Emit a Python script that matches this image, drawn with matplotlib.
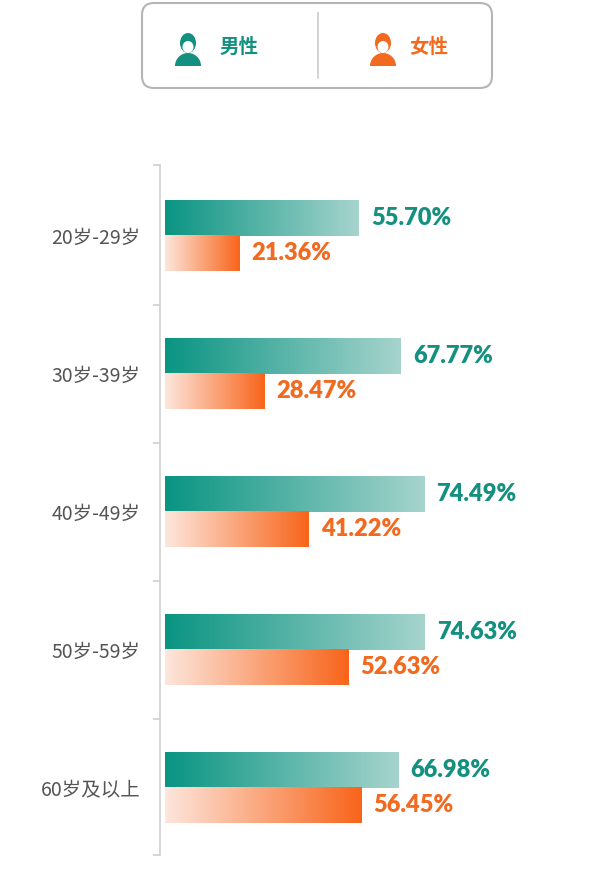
import matplotlib
matplotlib.use("Agg")
import matplotlib.pyplot as plt
import numpy as np
from matplotlib.patches import FancyBboxPatch, Circle, Wedge, Ellipse
from matplotlib.colors import LinearSegmentedColormap

categories = ["20岁-29岁", "30岁-39岁", "40岁-49岁", "50岁-59岁", "60岁及以上"]
male = [55.70, 67.77, 74.49, 74.63, 66.98]
female = [21.36, 28.47, 41.22, 52.63, 56.45]
series_names = ["男性", "女性"]

TEAL = "#13907f"
ORANGE = "#f26a1f"
W, H = 600, 882
fig = plt.figure(figsize=(6, 8.82), dpi=100)

def frect(x0, y0, x1, y1):
    return [x0 / W, 1 - y1 / H, (x1 - x0) / W, (y1 - y0) / H]

ax = fig.add_axes(frect(160, 165, 600, 855))
cm_m = LinearSegmentedColormap.from_list("m", ["#0a9482", "#a6d4cd"])
cm_f = LinearSegmentedColormap.from_list("f", ["#fde6dc", "#f8641a"])
grad = np.linspace(0, 1, 256).reshape(1, -1)
bh = 0.254
for i, (m, f) in enumerate(zip(male, female)):
    ax.imshow(grad, cmap=cm_m, aspect="auto", extent=(0, m, i, i - bh), zorder=2)
    ax.imshow(grad, cmap=cm_f, aspect="auto", extent=(0, f, i + bh, i), zorder=2)
    ax.text(m + 3.5, i - bh / 2, f"{m:.2f}%", color=TEAL, fontsize=17, fontweight="heavy",
            family="Lato", va="center", ha="left")
    ax.text(f + 3.5, i + bh / 2, f"{f:.2f}%", color=ORANGE, fontsize=17, fontweight="heavy",
            family="Lato", va="center", ha="left")
ax.set_xlim(-1.44, 125)
ax.set_ylim(4.486, -0.514)
for s in ["top", "right", "bottom"]:
    ax.spines[s].set_visible(False)
ax.spines["left"].set_color("#cfcfcf")
ax.spines["left"].set_linewidth(1.2)
ax.set_xticks([])
ax.set_yticks(range(len(categories)))
ax.set_yticklabels(categories, family=["Noto Sans CJK SC", "DejaVu Sans"], fontsize=14, color="#555555")
ax.tick_params(axis="y", which="major", length=0, pad=14)
ax.set_yticks([-0.514, 0.5, 1.5, 2.5, 3.5, 4.486], minor=True)
ax.tick_params(axis="y", which="minor", length=5, color="#cfcfcf", width=1.2)

# legend
lax = fig.add_axes(frect(0, 0, 600, 100))
lax.set_xlim(0, 600)
lax.set_ylim(100, 0)
lax.axis("off")
lax.add_patch(FancyBboxPatch((142, 3), 350, 85, boxstyle="round,pad=0,rounding_size=12",
                             fc="white", ec="#b5b5b5", lw=1.5))
lax.plot([318, 318], [13, 78], color="#cccccc", lw=1.2)

def person(cx, cy, color):
    lax.add_patch(Wedge((cx, cy + 20), 13, 180, 360, fc=color, ec="none"))
    lax.add_patch(Ellipse((cx, cy - 3), 16, 20, fc=color, ec="none"))
    lax.add_patch(Ellipse((cx, cy + 1), 11, 12, fc="white", ec="none"))

person(188, 46, TEAL)
person(383, 46, ORANGE)
lax.text(219, 47, series_names[0], color=TEAL, fontsize=14, fontweight="bold",
         family=["Noto Sans CJK SC", "DejaVu Sans"], va="center", ha="left")
lax.text(409, 47, series_names[1], color=ORANGE, fontsize=14, fontweight="bold",
         family=["Noto Sans CJK SC", "DejaVu Sans"], va="center", ha="left")

fig.savefig("out.png", dpi=100, facecolor="white")
